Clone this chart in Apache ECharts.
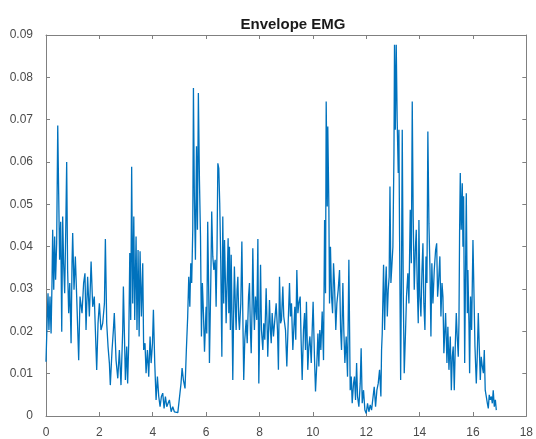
<!DOCTYPE html>
<html>
<head>
<meta charset="utf-8">
<script src="https://cdn.jsdelivr.net/npm/echarts@6/dist/echarts.min.js"></script>
<style>
html, body { margin: 0; padding: 0; background: #fff; }
#chart { width: 536px; height: 439px; }
</style>
</head>
<body>
<div id="chart"></div>
<script>
// envelope samples [time s, amplitude], one array per stretch
var seg0to3 = [
	[0.00,0.0128],[0.04,0.0219],[0.075,0.029],[0.11,0.0203],[0.15,0.0282],[0.19,0.0195],[0.225,0.0314],[0.25,0.044],
	[0.29,0.0298],[0.325,0.0424],[0.36,0.0322],[0.40,0.0408],[0.44,0.0686],[0.475,0.0526],[0.51,0.0369],[0.55,0.0459],
	[0.59,0.0199],[0.625,0.0471],[0.66,0.0361],[0.70,0.029],[0.74,0.044],[0.775,0.060],[0.81,0.0345],[0.85,0.0243],
	[0.89,0.0314],[0.94,0.0172],[0.975,0.0361],[1.00,0.0432],[1.05,0.0298],[1.10,0.0377],[1.15,0.0282],[1.225,0.0132],
	[1.275,0.0282],[1.35,0.0243],[1.41,0.0314],[1.46,0.0337],[1.50,0.0203],[1.56,0.0329],[1.625,0.0235],[1.69,0.0365],
	[1.75,0.0258],[1.81,0.0282],[1.85,0.0203],[1.90,0.0109],[1.95,0.0219],[2.00,0.0266],[2.06,0.0203],[2.125,0.0219],
	[2.19,0.0266],[2.225,0.0418],[2.275,0.0219],[2.325,0.0164],[2.375,0.0125],[2.41,0.0073],[2.475,0.0156],[2.525,0.0203],
	[2.56,0.0243],[2.625,0.0132],[2.69,0.0089],[2.75,0.0156],[2.81,0.0073],[2.875,0.0203],[2.90,0.0306]
];
var seg3to6 = [
	[2.975,0.0085],[3.025,0.0164],[3.06,0.0077],[3.10,0.0172],[3.14,0.0385],[3.175,0.0227],[3.21,0.0589],[3.25,0.0266],
	[3.29,0.0471],[3.325,0.0227],[3.375,0.0424],[3.41,0.0203],[3.45,0.0392],[3.49,0.0188],[3.525,0.0389],[3.575,0.0235],
	[3.625,0.0361],[3.66,0.0156],[3.71,0.0172],[3.75,0.0101],[3.80,0.0156],[3.85,0.0093],[3.90,0.0188],[3.94,0.0125],
	[3.99,0.0172],[4.025,0.0251],[4.075,0.0125],[4.125,0.0038],[4.175,0.0093],[4.225,0.0046],[4.275,0.0022],[4.325,0.0046],
	[4.375,0.0054],[4.425,0.0018],[4.475,0.0046],[4.525,0.0022],[4.575,0.003],[4.625,0.0038],[4.69,0.001],[4.75,0.0022],
	[4.81,0.001],[4.875,0.0014],[4.94,0.0008],[5.00,0.0008],[5.06,0.0077],[5.10,0.0113],[5.15,0.0085],[5.21,0.0065],
	[5.26,0.0156],[5.31,0.0235],[5.35,0.0329],[5.39,0.0258],[5.425,0.0361],[5.46,0.0314],[5.50,0.044],[5.525,0.0775],
	[5.56,0.0519],[5.60,0.0369],[5.64,0.0637],[5.675,0.044],[5.71,0.0763],[5.75,0.0558],[5.79,0.0424],[5.825,0.0188],
	[5.86,0.0314],[5.90,0.0243],[5.94,0.0152]
];
var seg6to9 = [
	[6.00,0.0258],[6.025,0.0195],[6.06,0.0459],[6.10,0.0282],[6.125,0.0125],[6.175,0.0314],[6.21,0.0483],[6.25,0.0377],
	[6.29,0.0345],[6.34,0.0369],[6.375,0.0258],[6.41,0.040],[6.44,0.0597],[6.475,0.0585],[6.51,0.0503],[6.55,0.0361],
	[6.59,0.014],[6.625,0.0471],[6.66,0.0266],[6.69,0.0416],[6.725,0.0314],[6.75,0.0219],[6.79,0.0322],[6.825,0.042],
	[6.85,0.0243],[6.875,0.040],[6.91,0.0203],[6.94,0.0381],[6.975,0.0219],[7.00,0.0085],[7.04,0.0282],[7.06,0.0353],
	[7.10,0.0251],[7.125,0.0203],[7.16,0.0298],[7.19,0.0329],[7.225,0.0227],[7.25,0.0203],[7.30,0.0266],[7.34,0.0412],
	[7.375,0.0243],[7.41,0.0085],[7.45,0.018],[7.50,0.0227],[7.54,0.0172],[7.59,0.0282],[7.625,0.0314],[7.66,0.0203],
	[7.69,0.0148],[7.725,0.0266],[7.75,0.0396],[7.79,0.0243],[7.81,0.0203],[7.85,0.0282],[7.90,0.0227],[7.94,0.0418],
	[7.975,0.0077],[8.01,0.0219],[8.04,0.0357],[8.075,0.0203],[8.125,0.0156],[8.16,0.0219],[8.20,0.018],[8.25,0.0302],
	[8.29,0.0203],[8.31,0.014],[8.35,0.0219],[8.375,0.0274],[8.41,0.0203],[8.44,0.0172],[8.475,0.0243],[8.525,0.0188],
	[8.575,0.0227],[8.625,0.0266],[8.675,0.0203],[8.71,0.0109],[8.75,0.0329],[8.79,0.0219],[8.825,0.0227],[8.875,0.0306],
	[8.91,0.0235]
];
var seg9to12 = [
	[8.975,0.0203],[9.025,0.0117],[9.075,0.0219],[9.125,0.0314],[9.16,0.0235],[9.20,0.0266],[9.25,0.0156],[9.29,0.0211],
	[9.325,0.0258],[9.36,0.018],[9.40,0.0345],[9.44,0.0243],[9.475,0.0266],[9.525,0.0282],[9.56,0.018],[9.60,0.0085],
	[9.65,0.0203],[9.69,0.0243],[9.725,0.0156],[9.76,0.027],[9.81,0.0109],[9.85,0.0164],[9.89,0.0188],[9.94,0.0125],
	[9.975,0.0203],[10.01,0.027],[10.06,0.014],[10.10,0.0058],[10.15,0.0125],[10.19,0.0195],[10.225,0.0117],[10.26,0.0203],
	[10.30,0.0156],[10.35,0.0247],[10.40,0.0132],[10.44,0.0463],[10.475,0.029],[10.50,0.0743],[10.54,0.0495],[10.56,0.0684],
	[10.60,0.0495],[10.625,0.0266],[10.66,0.040],[10.70,0.0282],[10.74,0.0243],[10.775,0.0361],[10.81,0.0314],[10.86,0.0203],
	[10.90,0.0266],[10.95,0.0298],[11.00,0.0345],[11.04,0.0203],[11.075,0.0156],[11.125,0.0314],[11.16,0.0203],[11.20,0.0125],
	[11.25,0.0188],[11.30,0.0093],[11.35,0.0369],[11.40,0.0061],[11.44,0.0093],[11.475,0.003],[11.525,0.0077],[11.56,0.0093],
	[11.60,0.0038],[11.64,0.0125],[11.675,0.0046],[11.725,0.0022],[11.775,0.0077],[11.81,0.016],[11.85,0.003],[11.90,0.0061]
];
var seg12to15 = [
	[11.95,0.0014],[12.00,0.0006],[12.05,0.003],[12.10,0.001],[12.15,0.0026],[12.20,0.0014],[12.25,0.001],[12.30,0.0069],
	[12.35,0.0022],[12.40,0.0061],[12.45,0.0077],[12.50,0.0109],[12.55,0.0046],[12.575,0.0156],[12.60,0.0195],[12.65,0.0357],
	[12.69,0.0203],[12.725,0.0314],[12.75,0.0353],[12.79,0.0235],[12.825,0.0298],[12.86,0.0329],[12.89,0.0542],[12.925,0.0314],
	[12.96,0.0353],[13.00,0.040],[13.04,0.0621],[13.06,0.0877],[13.09,0.0676],[13.125,0.0877],[13.16,0.070],[13.20,0.0574],
	[13.225,0.0676],[13.25,0.0424],[13.29,0.0085],[13.325,0.0361],[13.35,0.0676],[13.39,0.0282],[13.425,0.0101],[13.475,0.0203],
	[13.51,0.0282],[13.56,0.0337],[13.60,0.0266],[13.65,0.0487],[13.69,0.0361],[13.725,0.0743],[13.76,0.0471],[13.80,0.0298],
	[13.84,0.0392],[13.875,0.044],[13.91,0.0314],[13.95,0.0219],[13.975,0.0463],[14.01,0.0282],[14.05,0.0235],[14.09,0.0345],
	[14.125,0.0408],[14.16,0.0266],[14.20,0.0203],[14.24,0.0377],[14.275,0.0314],[14.31,0.0672],[14.35,0.0455],[14.39,0.0345],
	[14.425,0.0188],[14.46,0.0361],[14.50,0.0266],[14.55,0.0345],[14.60,0.0392],[14.64,0.0408],[14.675,0.0282],[14.71,0.0314],
	[14.76,0.0377],[14.80,0.0235],[14.84,0.0314],[14.875,0.0282],[14.91,0.0148]
];
var seg15toEnd = [
	[14.975,0.0243],[15.025,0.0125],[15.06,0.0211],[15.10,0.0109],[15.15,0.0188],[15.19,0.0061],[15.225,0.014],[15.26,0.0164],
	[15.30,0.0061],[15.34,0.0172],[15.375,0.0243],[15.41,0.0188],[15.45,0.014],[15.475,0.0219],[15.50,0.044],[15.525,0.0574],
	[15.56,0.044],[15.60,0.055],[15.625,0.040],[15.65,0.0519],[15.69,0.0125],[15.725,0.0361],[15.75,0.0526],[15.79,0.0243],
	[15.81,0.0345],[15.85,0.0219],[15.875,0.0101],[15.91,0.0282],[15.95,0.0203],[16.00,0.0416],[16.04,0.0282],[16.075,0.0164],
	[16.125,0.0077],[16.16,0.014],[16.20,0.0243],[16.24,0.0156],[16.275,0.0085],[16.31,0.014],[16.35,0.0117],[16.39,0.0101],
	[16.425,0.0156],[16.46,0.0061],[16.50,0.0046],[16.54,0.003],[16.575,0.0018],[16.61,0.005],[16.65,0.0038],[16.69,0.0046],
	[16.725,0.003],[16.76,0.0061],[16.80,0.0022],[16.84,0.0038],[16.875,0.0014]
];

var xTicks = [0, 2, 4, 6, 8, 10, 12, 14, 16, 18];
var yTicks = [0, 0.01, 0.02, 0.03, 0.04, 0.05, 0.06, 0.07, 0.08, 0.09];

var envelope = [].concat(seg0to3, seg3to6, seg6to9, seg9to12, seg12to15, seg15toEnd);

var chart = echarts.init(document.getElementById("chart"));

var axisColor = "#808080";
var labelColor = "#4a4a4a";
var font = "Liberation Sans, Arial, sans-serif";

var xBase = {
	type: "value",
	min: xTicks[0],
	max: xTicks[xTicks.length - 1],
	interval: 2,
	axisLine: { show: true, onZero: false, lineStyle: { color: axisColor, width: 1 } },
	axisTick: { show: true, inside: true, length: 4, lineStyle: { color: axisColor } },
	splitLine: { show: false }
};
var yBase = {
	type: "value",
	min: yTicks[0],
	max: yTicks[yTicks.length - 1],
	interval: 0.01,
	axisLine: { show: true, onZero: false, lineStyle: { color: axisColor, width: 1 } },
	axisTick: { show: true, inside: true, length: 4, lineStyle: { color: axisColor } },
	splitLine: { show: false }
};

var option = {
	animation: false,
	backgroundColor: "#fff",
	title: {
		text: "Envelope EMG",
		left: 288,
		top: 12,
		textAlign: "center",
		textStyle: { fontFamily: font, fontSize: 15, fontWeight: "bold", color: "#1a1a1a" }
	},
	grid: { left: 46, right: 9, top: 35, bottom: 23, containLabel: false },
	xAxis: [
		Object.assign({}, xBase, {
			position: "bottom",
			axisLabel: { show: true, margin: 11, color: labelColor, fontSize: 12, fontFamily: font }
		}),
		Object.assign({}, xBase, { position: "top", axisLabel: { show: false } })
	],
	yAxis: [
		Object.assign({}, yBase, {
			position: "left",
			axisLabel: {
				show: true, margin: 13, color: labelColor, fontSize: 12, fontFamily: font,
				formatter: function(v) { return v === 0 ? "0" : v.toFixed(2); }
			}
		}),
		Object.assign({}, yBase, { position: "right", axisLabel: { show: false } })
	],
	series: [{
		type: "line",
		xAxisIndex: 0,
		yAxisIndex: 0,
		data: envelope,
		showSymbol: false,
		symbol: "none",
		lineStyle: { color: "#0072BD", width: 1.3 },
		z: 1
	}]
};

chart.setOption(option);
</script>
</body>
</html>
